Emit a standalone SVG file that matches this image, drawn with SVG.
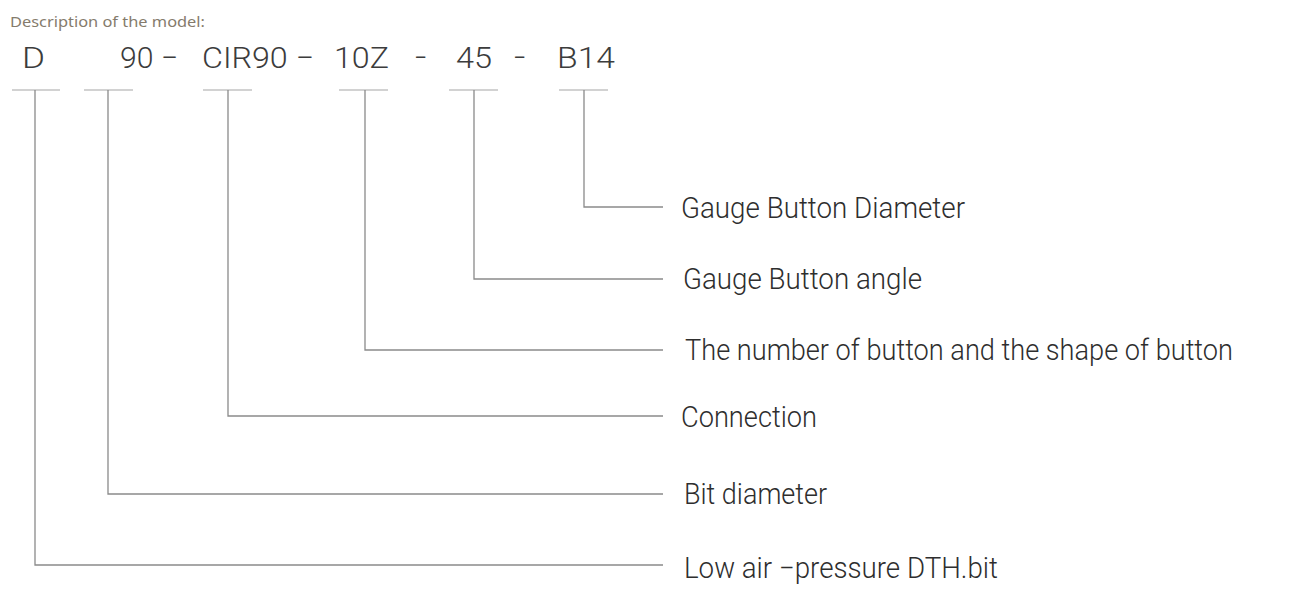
<svg xmlns="http://www.w3.org/2000/svg" width="1289" height="601" viewBox="0 0 1289 601">
<style>
.bg{fill:#ffffff}
.desc{font-family:"Noto Sans","Liberation Sans",sans-serif;font-size:15px;fill:#857b6c}
.code{font-family:Roboto,"Liberation Sans",Arial,sans-serif;font-weight:300;font-size:30px;fill:#3c3c3c}
.lbl{font-family:Roboto,"Liberation Sans",Arial,sans-serif;font-weight:300;font-size:29px;fill:#2e2e2e}
.tick{stroke:#a6a6a6;stroke-width:1.2;fill:none}
.conn{stroke:#8a8a8a;stroke-width:1.3;fill:none}
</style>
<rect class="bg" x="0" y="0" width="1289" height="601"/>
<g id="title">
<text class="desc" x="10" y="27" textLength="195" lengthAdjust="spacingAndGlyphs">Description of the model:</text>
</g>
<g id="code">
<text class="code" x="22" y="68" textLength="23" lengthAdjust="spacingAndGlyphs">D</text>
<text class="code" x="120" y="68" textLength="58" lengthAdjust="spacingAndGlyphs">90 −</text>
<text class="code" x="202" y="68" textLength="112" lengthAdjust="spacingAndGlyphs">CIR90 −</text>
<text class="code" x="334" y="68" textLength="55" lengthAdjust="spacingAndGlyphs">10Z</text>
<text class="code" x="414" y="68" textLength="13" lengthAdjust="spacingAndGlyphs">−</text>
<text class="code" x="456" y="68" textLength="36" lengthAdjust="spacingAndGlyphs">45</text>
<text class="code" x="513" y="68" textLength="13" lengthAdjust="spacingAndGlyphs">−</text>
<text class="code" x="557" y="68" textLength="58" lengthAdjust="spacingAndGlyphs">B14</text>
</g>
<g id="ticks">
<line class="tick" x1="12" y1="90" x2="60" y2="90"/>
<line class="tick" x1="84" y1="90" x2="133" y2="90"/>
<line class="tick" x1="203" y1="90" x2="252" y2="90"/>
<line class="tick" x1="339" y1="90" x2="388" y2="90"/>
<line class="tick" x1="449" y1="90" x2="498" y2="90"/>
<line class="tick" x1="559" y1="90" x2="608" y2="90"/>
</g>
<g id="connectors">
<polyline class="conn" points="584,90 584,207 663,207"/>
<polyline class="conn" points="474,90 474,279 663,279"/>
<polyline class="conn" points="365,90 365,350 663,350"/>
<polyline class="conn" points="228,90 228,416 663,416"/>
<polyline class="conn" points="108,90 108,494 663,494"/>
<polyline class="conn" points="35,90 35,565 663,565"/>
</g>
<g id="n-gauge-diameter">
<text class="lbl" x="681" y="218" textLength="284" lengthAdjust="spacingAndGlyphs">Gauge Button Diameter</text>
</g>
<g id="n-gauge-angle">
<text class="lbl" x="683" y="289" textLength="239" lengthAdjust="spacingAndGlyphs">Gauge Button angle</text>
</g>
<g id="n-number">
<text class="lbl" x="685" y="360" textLength="548" lengthAdjust="spacingAndGlyphs">The number of button and the shape of button</text>
</g>
<g id="n-connection">
<text class="lbl" x="681" y="427" textLength="136" lengthAdjust="spacingAndGlyphs">Connection</text>
</g>
<g id="n-bit-diameter">
<text class="lbl" x="684" y="504" textLength="143" lengthAdjust="spacingAndGlyphs">Bit diameter</text>
</g>
<g id="n-low-air">
<text class="lbl" x="684" y="578" textLength="314" lengthAdjust="spacingAndGlyphs">Low air −pressure DTH.bit</text>
</g>
</svg>
